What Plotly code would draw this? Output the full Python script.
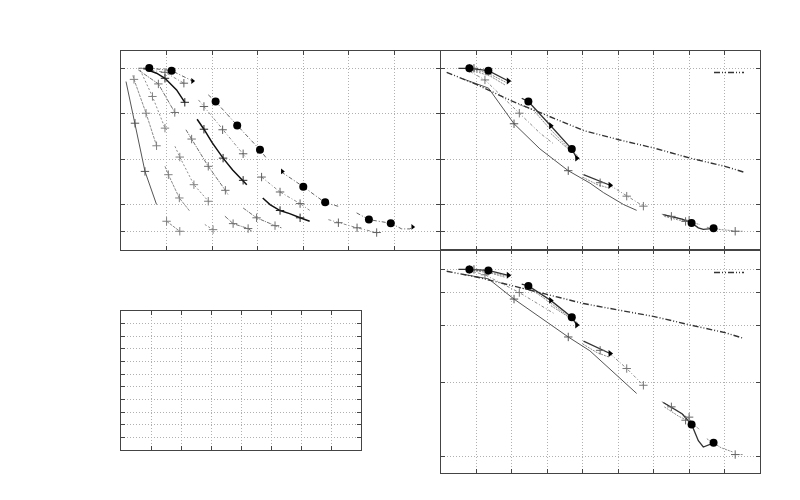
import plotly.graph_objects as go

N = None

# ---------------- Panel 1 (top-left) ----------------
p1_circ_line_x = [0.38, 0.62, 1.11, 1.57, N, 1.915, 2.076, 2.55, 3.05, 3.19, N, 3.52, 4.0, 4.48, 4.77, N, 5.17, 5.44, 5.92, 6.16, 6.34, 6.40]
p1_circ_line_y = [0.999, 1.0, 0.986, 0.929, N, 0.853, 0.816, 0.685, 0.551, 0.505, N, 0.429, 0.348, 0.26, 0.24, N, 0.204, 0.167, 0.147, 0.116, 0.116, 0.127]
p1_circ_mark_x = [0.62, 1.11, 2.076, 2.55, 3.05, 4.0, 4.48, 5.44, 5.92]
p1_circ_mark_y = [1.0, 0.986, 0.816, 0.685, 0.551, 0.348, 0.262, 0.167, 0.147]
p1_end_x = [1.57, 3.54, 6.40]
p1_end_y = [0.929, 0.432, 0.127]

p1_plus_line_x = [0.49, 0.965, 1.38, N, 1.70, 1.82, 2.23, 2.68, 2.72, N, 3.085, 3.49, 3.93, 4.14, N, 4.55, 4.77, 5.18, 5.61, 5.64]
p1_plus_line_y = [0.994, 0.977, 0.917, N, 0.825, 0.789, 0.661, 0.529, 0.515, N, 0.401, 0.319, 0.255, 0.218, N, 0.167, 0.150, 0.122, 0.096, 0.094]
p1_plus_mark_x = [0.965, 1.38, 1.82, 2.23, 2.68, 3.085, 3.49, 3.93, 4.77, 5.18, 5.61]
p1_plus_mark_y = [0.977, 0.917, 0.789, 0.661, 0.529, 0.401, 0.319, 0.255, 0.150, 0.122, 0.096]

p1_thick_line_x = [0.49, 0.78, 0.965, 1.22, 1.40, N, 1.67, 1.82, 2.0, 2.24, 2.45, 2.68, 2.76, N, 3.11, 3.27, 3.49, 3.7, 3.93, 4.14]
p1_thick_line_y = [0.999, 0.972, 0.944, 0.88, 0.812, N, 0.719, 0.664, 0.59, 0.505, 0.44, 0.383, 0.359, N, 0.286, 0.25, 0.217, 0.2, 0.177, 0.158]
p1_thick_mark_x = [0.965, 1.40, 1.82, 2.24, 2.68, 3.49, 3.93]
p1_thick_mark_y = [0.944, 0.812, 0.664, 0.505, 0.383, 0.217, 0.177]

p1_g1_line_x = [0.38, 0.82, 1.18, N, 1.425, 1.55, 1.915, 2.29, 2.35, N, 2.68, 2.975, 3.38, 3.52, N, 2.28, 2.46, 2.79, 2.87]
p1_g1_line_y = [0.99, 0.913, 0.756, N, 0.661, 0.610, 0.46, 0.328, 0.304, N, 0.231, 0.177, 0.134, 0.122, N, 0.186, 0.145, 0.118, 0.103]
p1_g1_mark_x = [0.82, 1.18, 1.55, 1.915, 2.29, 2.975, 3.38, 2.46, 2.79]
p1_g1_mark_y = [0.913, 0.756, 0.610, 0.46, 0.328, 0.177, 0.134, 0.145, 0.118]

p1_g2_line_x = [0.42, 0.69, 0.965, 1.0, N, 1.184, 1.29, 1.60, 1.915, 1.95, N, 1.84, 2.02]
p1_g2_line_y = [0.99, 0.844, 0.67, 0.661, N, 0.57, 0.511, 0.359, 0.268, 0.259, N, 0.14, 0.112]
p1_g2_mark_x = [0.69, 0.965, 1.29, 1.60, 1.915, 2.02]
p1_g2_mark_y = [0.844, 0.67, 0.511, 0.359, 0.268, 0.112]

p1_g3_line_x = [0.26, 0.285, 0.55, 0.78, N, 0.965, 1.04, 1.28, 1.51, N, 1.0, 1.29]
p1_g3_line_y = [0.96, 0.938, 0.752, 0.573, N, 0.46, 0.414, 0.286, 0.213, N, 0.158, 0.103]
p1_g3_mark_x = [0.285, 0.55, 0.78, 1.04, 1.28, 1.0, 1.29]
p1_g3_mark_y = [0.938, 0.752, 0.573, 0.414, 0.286, 0.158, 0.103]

p1_g4_line_x = [0.11, 0.2, 0.307, 0.526, 0.78]
p1_g4_line_y = [0.926, 0.82, 0.697, 0.432, 0.25]
p1_g4_mark_x = [0.307, 0.526]
p1_g4_mark_y = [0.697, 0.432]

# ---------------- Panels 2 and 3 (same data, linear / log) ----------------
ref_x = [0.16, 1.0, 1.99, 3.0, 4.02, 5.02, 6.02, 7.03, 8.01, 8.53]
ref_y = [0.977, 0.91, 0.82, 0.737, 0.657, 0.606, 0.56, 0.505, 0.46, 0.429]

sol_x = [0.63, 1.34, 2.06, 2.79, 3.59, 4.2, 4.58, 5.15, 5.52]
sol_y = [0.94, 0.89, 0.694, 0.556, 0.436, 0.368, 0.316, 0.25, 0.218]
sol_mark_x = [0.93, 2.06, 3.59]
sol_mark_y = [0.999, 0.694, 0.436]

dsh_x = [0.82, 1.24, 2.21, 2.79, 3.2, N, 4.77, 5.24, 5.71]
dsh_y = [0.981, 0.935, 0.752, 0.643, 0.58, N, 0.355, 0.296, 0.241]
dsh_mark_x = [1.24, 2.21, 5.24, 5.71]
dsh_mark_y = [0.935, 0.752, 0.296, 0.241]

clu_x = [0.49, 0.80, 1.336, 1.90, N, 2.277, 2.465, 3.095, 3.69, 3.83, N, 4.02, 4.49, 4.77, N, 6.27, 6.8, 7.07, 7.26, 7.40, 7.70]
clu_y = [0.999, 0.999, 0.986, 0.929, N, 0.834, 0.816, 0.683, 0.555, 0.505, N, 0.414, 0.378, 0.356, N, 0.195, 0.17, 0.149, 0.122, 0.113, 0.119]
clu_circ_x = [0.80, 1.336, 2.465, 3.69, 7.07, 7.69]
clu_circ_y = [0.999, 0.986, 0.816, 0.555, 0.149, 0.119]
clu_end_x = [1.90, 3.095, 3.83, 4.77]
clu_end_y = [0.929, 0.683, 0.505, 0.356]

bun_x = [0.82, 1.3, 1.85, N, 0.91, 1.4, 1.81, N, 2.2, 2.6, 3.1, 3.5, 3.85, N, 3.1, 3.5, 3.85, N, 4.0, 4.4, 4.75,
         N, 6.23, 6.6, 7.0, 7.12, N, 6.3, 6.7, 7.0, 7.3, N, 7.5, 7.9, 8.25, N, 8.2, 8.53]
bun_y = [0.994, 0.975, 0.92, N, 0.986, 0.955, 0.907, N, 0.80, 0.77, 0.66, 0.58, 0.51, N, 0.64, 0.57, 0.52, N, 0.40, 0.36, 0.34,
         N, 0.197, 0.18, 0.16, 0.149, N, 0.185, 0.165, 0.155, 0.14, N, 0.125, 0.112, 0.106, N, 0.103, 0.103]
bun_mark_x = [0.80, 4.49, 6.5, 7.0, 6.9, 8.3]
bun_mark_y = [0.999, 0.37, 0.185, 0.163, 0.157, 0.103]

# ---------------- axis ticks ----------------
y_ticks = [0.1, 0.25, 0.5, 0.75, 1.0]

GREY = "#8c8c8c"

fig = go.Figure()


def add_line(x, y, xa, ya, color, width, dash, legend=None, show=False):
    fig.add_trace(go.Scatter(x=x, y=y, mode="lines", xaxis=xa, yaxis=ya,
                             line=dict(color=color, width=width, dash=dash),
                             connectgaps=False, showlegend=show, name=" ",
                             legend=legend if legend else "legend", hoverinfo="skip"))


def add_marks(x, y, xa, ya, symbol, size, color, lw=1):
    fig.add_trace(go.Scatter(x=x, y=y, mode="markers", xaxis=xa, yaxis=ya,
                             marker=dict(symbol=symbol, size=size, color=color,
                                         line=dict(color=color, width=lw)),
                             showlegend=False, hoverinfo="skip"))


# Panel 1
add_line(p1_g4_line_x, p1_g4_line_y, "x", "y", "#555555", 1, "solid")
add_line(p1_g3_line_x, p1_g3_line_y, "x", "y", GREY, 1, "3px,1px")
add_line(p1_g2_line_x, p1_g2_line_y, "x", "y", GREY, 1, "2px,2px")
add_line(p1_g1_line_x, p1_g1_line_y, "x", "y", "#707070", 1, "4px,1px,1px,1px")
add_line(p1_thick_line_x, p1_thick_line_y, "x", "y", "#111111", 1.5, "solid")
add_line(p1_plus_line_x, p1_plus_line_y, "x", "y", GREY, 1, "3px,2px,1px,2px")
add_line(p1_circ_line_x, p1_circ_line_y, "x", "y", "#666666", 1, "4px,2px,1px,2px")
add_marks(p1_g4_mark_x, p1_g4_mark_y, "x", "y", "cross-thin", 6, "#555555")
add_marks(p1_g3_mark_x, p1_g3_mark_y, "x", "y", "cross-thin", 6, "#808080")
add_marks(p1_g2_mark_x, p1_g2_mark_y, "x", "y", "cross-thin", 6, "#808080")
add_marks(p1_g1_mark_x, p1_g1_mark_y, "x", "y", "cross-thin", 6, "#707070")
add_marks(p1_thick_mark_x, p1_thick_mark_y, "x", "y", "cross-thin", 6, "#222222")
add_marks(p1_plus_mark_x, p1_plus_mark_y, "x", "y", "cross-thin", 6, "#606060")
add_marks(p1_circ_mark_x, p1_circ_mark_y, "x", "y", "circle", 8, "#000000", 0)
add_marks(p1_end_x, p1_end_y, "x", "y", "triangle-right", 5, "#000000", 0)

# Panels 2 and 3
for xa, ya, lg in (("x2", "y2", "legend"), ("x3", "y3", "legend2")):
    add_line(bun_x, bun_y, xa, ya, GREY, 1, "2px,1px")
    add_line(sol_x, sol_y, xa, ya, "#555555", 1, "solid")
    add_line(dsh_x, dsh_y, xa, ya, GREY, 1, "3px,2px,1px,2px")
    add_line(clu_x, clu_y, xa, ya, "#333333", 1.3, "solid")
    add_marks(bun_mark_x, bun_mark_y, xa, ya, "cross-thin", 6, "#666666")
    add_marks(sol_mark_x, sol_mark_y, xa, ya, "cross-thin", 6, "#555555")
    add_marks(dsh_mark_x, dsh_mark_y, xa, ya, "cross-thin", 6, "#777777")
    add_marks(clu_circ_x, clu_circ_y, xa, ya, "circle", 8, "#000000", 0)
    add_marks(clu_end_x, clu_end_y, xa, ya, "triangle-right", 6, "#000000", 0)
    add_line(ref_x, ref_y, xa, ya, "#333333", 1.4, "6px,2px,1px,2px,1px,2px", legend=lg, show=True)

W, H = 800, 500
OFF = 8  # page margin of the rendered html


def dx(a, b):
    return [(a - OFF) / W, (b - OFF) / W]


def dy(top, bottom):
    return [1 - (bottom - OFF) / H, 1 - (top - OFF) / H]


common = dict(showticklabels=False, ticks="inside", ticklen=4, tickcolor="#444444",
              showline=True, linecolor="#444444", linewidth=1, mirror="ticks",
              showgrid=True, gridcolor="#b0b0b0", griddash="1px,2px", gridwidth=1,
              zeroline=False, fixedrange=True)

fig.update_layout(
    width=W, height=H, margin=dict(l=0, r=0, t=0, b=0),
    paper_bgcolor="white", plot_bgcolor="white",
    xaxis=dict(domain=dx(121, 440), range=[0, 7], dtick=1, tick0=0, anchor="y", **common),
    yaxis=dict(domain=dy(51, 250), range=[0, 1.094], tickvals=y_ticks, anchor="x", **common),
    xaxis2=dict(domain=dx(441, 760), range=[0, 9], dtick=1, tick0=0, anchor="y2", **common),
    yaxis2=dict(domain=dy(51, 250), range=[0, 1.094], tickvals=y_ticks, anchor="x2", **common),
    xaxis3=dict(domain=dx(441, 760), range=[0, 9], dtick=1, tick0=0, anchor="y3", **common),
    yaxis3=dict(domain=dy(250, 473), type="log", range=[-1.0855, 0.103], tickvals=y_ticks, anchor="x3", **common),
    xaxis4=dict(domain=dx(121, 361), range=[0, 8], dtick=1, tick0=0, anchor="y4", **common),
    yaxis4=dict(domain=dy(311, 450), range=[0, 11], dtick=1, tick0=0, anchor="x4", **common),
    legend=dict(x=(709 - OFF) / W, y=1 - (58 - OFF) / H, xanchor="left", yanchor="top",
                bgcolor="rgba(0,0,0,0)", borderwidth=0, font=dict(size=10, color="#000")),
    legend2=dict(x=(709 - OFF) / W, y=1 - (258 - OFF) / H, xanchor="left", yanchor="top",
                 bgcolor="rgba(0,0,0,0)", borderwidth=0, font=dict(size=10, color="#000")),
)

# empty fourth panel still needs an (invisible) trace to show its axes
fig.add_trace(go.Scatter(x=[], y=[], xaxis="x4", yaxis="y4", showlegend=False))

fig.write_html("out.html")
